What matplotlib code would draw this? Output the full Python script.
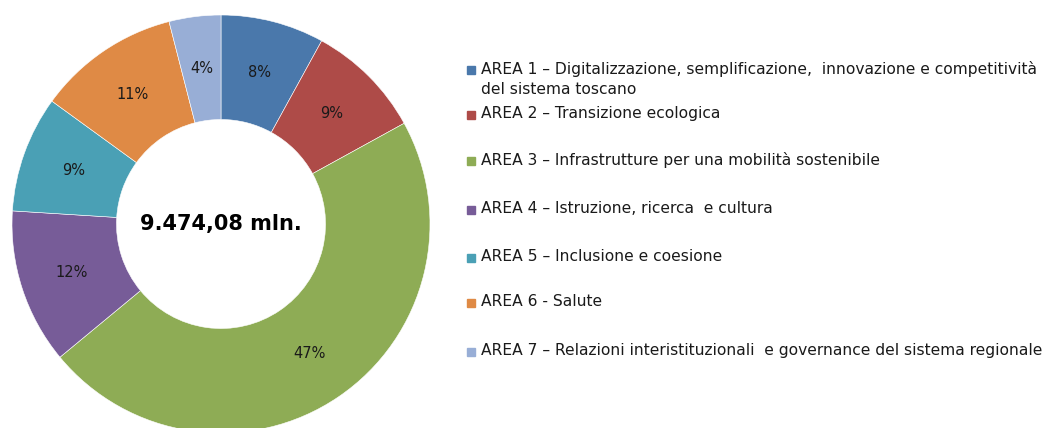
import matplotlib
matplotlib.use('Agg')
import matplotlib.pyplot as plt
from matplotlib.patches import Rectangle

# data
labels = [
    'AREA 1 \u2013 Digitalizzazione, semplificazione,  innovazione e competitività\ndel sistema toscano',
    'AREA 2 \u2013 Transizione ecologica',
    'AREA 3 \u2013 Infrastrutture per una mobilità sostenibile',
    'AREA 4 \u2013 Istruzione, ricerca  e cultura',
    'AREA 5 \u2013 Inclusione e coesione',
    'AREA 6 - Salute',
    'AREA 7 \u2013 Relazioni interistituzionali  e governance del sistema regionale',
]
shares = [8, 9, 47, 12, 9, 11, 4]
colors = ['#4a78ab', '#ae4b48', '#8eac55', '#775c98', '#4aa0b5', '#df8a45', '#98aed6']
total_label = '9.474,08 mln.'

W, H = 1052, 428
fig = plt.figure(figsize=(W / 100, H / 100), dpi=100)

# donut, center ~ (221, 224) px, radius ~209 px
cx, cy, r = 221, 224, 209
ax = fig.add_axes([(cx - r) / W, (H - cy - r) / H, 2 * r / W, 2 * r / H])
wedges, texts, autotexts = ax.pie(
    shares, colors=colors, startangle=90, counterclock=False,
    wedgeprops=dict(width=0.5, edgecolor='white', linewidth=0.4),
    autopct='%d%%', pctdistance=0.75,
    textprops=dict(fontsize=10.5, color='#1a1a1a'))
ax.set_xlim(-1, 1)
ax.set_ylim(-1, 1)
ax.set_aspect('equal')
ax.text(0, 0.0, total_label, ha='center', va='center', fontsize=15,
        fontweight='bold', color='black')

# legend drawn by hand
rows_y = [70, 115, 161, 210, 258, 303, 352]
for lab, col, y in zip(labels, colors, rows_y):
    fig.patches.append(Rectangle(((467) / W, (H - y - 4) / H), 8 / W, 8 / H,
                                 transform=fig.transFigure, color=col))
    fig.text(481 / W, (H - y + 9) / H, lab, ha='left', va='top',
             fontsize=11.2, color='#1a1a1a', linespacing=1.42)

fig.savefig('out.png', dpi=100)
